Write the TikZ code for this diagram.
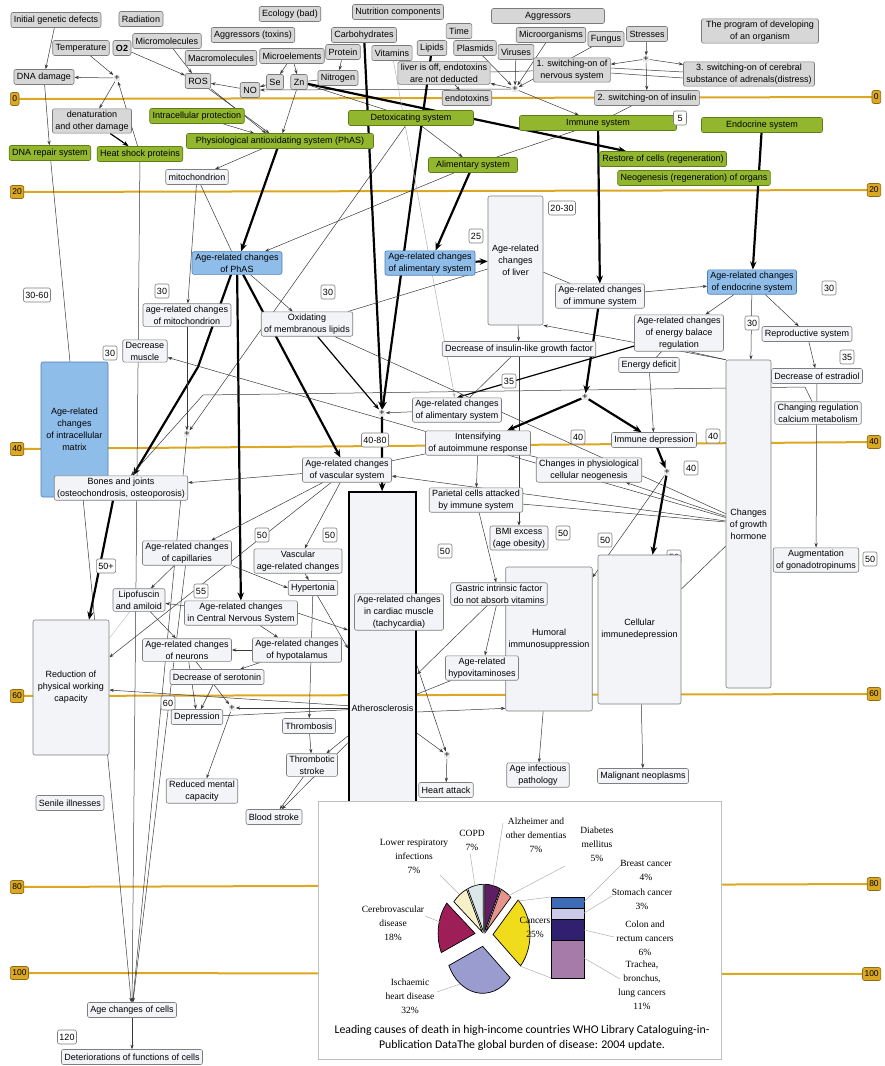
\documentclass[tikz,border=0pt]{standalone}
\usepackage{fontspec}
\setmainfont{Liberation Sans}
\newfontfamily\piefont{Liberation Serif}
\newfontfamily\capfont{Carlito}
\usetikzlibrary{arrows.meta}
\pgfdeclarelayer{bg}
\pgfsetlayers{bg,main}
\definecolor{factorfill}{HTML}{D7D7D7}
\definecolor{factorline}{HTML}{7B7B7B}
\definecolor{sysfill}{HTML}{92B62E}
\definecolor{sysline}{HTML}{5E7D16}
\definecolor{agedfill}{HTML}{8FBDEA}
\definecolor{agedline}{HTML}{4F7FB6}
\definecolor{statefill}{HTML}{F3F4F7}
\definecolor{stateline}{HTML}{7F7F7F}
\definecolor{rulergold}{HTML}{DCA823}
\definecolor{rulerline}{HTML}{8E6B10}
\definecolor{linkgray}{HTML}{3A3A3A}
\definecolor{pieAlz}{HTML}{5E1E62}
\definecolor{pieDiab}{HTML}{E4938D}
\definecolor{pieCanc}{HTML}{F0DC1A}
\definecolor{pieIsch}{HTML}{9A9BCF}
\definecolor{pieCereb}{HTML}{9E1F57}
\definecolor{pieResp}{HTML}{F8F1C8}
\definecolor{pieCopd}{HTML}{DCE7EA}
\definecolor{barBreast}{HTML}{3E6DB5}
\definecolor{barStom}{HTML}{CACAE8}
\definecolor{barColon}{HTML}{30206F}
\definecolor{barLung}{HTML}{A67BAA}

\tikzset{
  base/.style={draw, rounded corners=2pt, align=center, inner xsep=3pt, inner ysep=2pt,
    minimum height=15pt, line width=0.6pt, font=\fontsize{9}{12}\selectfont},
  factor/.style={base, fill=factorfill, draw=factorline},
  sys/.style={base, fill=sysfill, draw=sysline},
  aged/.style={base, fill=agedfill, draw=agedline},
  state/.style={base, fill=statefill, draw=stateline},
  agetag/.style={base, fill=white, draw=stateline, inner xsep=2pt, minimum height=14pt, minimum width=13pt},
  joint/.style={fill=gray!15, inner sep=0.8pt, font=\fontsize{9}{9}\selectfont},
  rulertag/.style={draw=rulerline, fill=rulergold, rounded corners=2pt, inner xsep=2pt, inner ysep=1pt,
    minimum height=13pt, line width=0.6pt, font=\fontsize{8.5}{9}\selectfont},
  ruler/.style={draw=rulergold, line width=2pt},
  link/.style={draw=linkgray, line width=0.5pt, -{Stealth[length=4.5pt,width=3.2pt]}},
  plain/.style={draw=linkgray, line width=0.5pt},
  midlink/.style={draw=black, line width=1.2pt, -{Stealth[length=6pt,width=4.5pt]}},
  heavy/.style={draw=black, line width=2.2pt, -{Stealth[length=8pt,width=6.5pt]}},
  boxw/.style={minimum width=#1pt},
  boxh/.style={minimum height=#1pt},
  leader/.style={draw=gray!60, line width=0.5pt},
  slice/.style={draw=black, line width=0.7pt},
  piefnt/.style={font=\piefont\fontsize{9.5}{14}\selectfont, align=center, inner sep=0pt},
}

\begin{document}
\begin{tikzpicture}[x=1pt,y=-1pt]
\useasboundingbox (0,0) rectangle (885,1066);
\begin{pgfonlayer}{bg}
  \fill[white] (0,0) rectangle (885,1066);
\end{pgfonlayer}

% age scale
\foreach \yl/\yr/\age in {99/97/0,192/190/20,449/442/40,696/694/60,887/884/80,973/974/100}{
  \begin{pgfonlayer}{bg}
    \draw[ruler] (14,\yl) -- (876,\yr);
  \end{pgfonlayer}
  \node[rulertag, anchor=west] (agel\age) at (10,\yl) {\age};
  \node[rulertag, anchor=east] (ager\age) at (881,\yr) {\age};
}

% ages of onset
\foreach \x/\y/\t [count=\i] in {476/236/25, 562/208/20-30, 829/288/30, 162/291/30, 328/292/30,
    37/295/30-60, 752/323/30, 847/357/35, 110/353/30, 509/381/35, 375/440/40-80, 578/437/40,
    713/436/40, 691/468/40, 262/535/50, 330/535/50, 445/551/50, 563/533/50, 605/540/50,
    674/557/50, 870/559/50, 106/566/50+, 201/591/55, 168/703/60, 67/1037/120}
  \node[agetag] (tag\i) at (\x,\y) {\t};

% factors
\node[factor] (gen) at (56,20) {Initial genetic defects};
\node[factor] (rad) at (141,19) {Radiation};
\node[factor] (eco) at (290,14) {Ecology (bad)};
\node[factor] (nutr) at (398,12) {Nutrition components};
\node[factor, boxw=113] (aggr) at (548,16) {Aggressors};
\node[factor] (tox) at (253,35) {Aggressors (toxins)};
\node[factor] (micro) at (167,41) {Micromolecules};
\node[factor] (temp) at (81,48) {Temperature};
\node[factor] (otwo) at (122,48) {\textbf{O2}};
\node[factor] (macro) at (221,58) {Macromolecules};
\node[factor] (melem) at (292,56) {Microelements};
\node[factor] (carb) at (364,35) {Carbohydrates};
\node[factor] (time) at (459,31) {Time};
\node[factor] (prot) at (343,52) {Protein};
\node[factor] (vit) at (392,53) {Vitamins};
\node[factor] (lip) at (432,48) {Lipids};
\node[factor] (plas) at (475,48) {Plasmids};
\node[factor] (vir) at (516,52) {Viruses};
\node[factor] (morg) at (551,35) {Microorganisms};
\node[factor] (fung) at (606,39) {Fungus};
\node[factor] (stress) at (647,34) {Stresses};
\node[factor, boxw=117] (prog) at (760,31) {The program of developing\\of an organism};
\node[factor] (nitro) at (338,78) {Nitrogen};
\node[factor] (liveroff) at (444,73) {liver is off, endotoxins\\are not deducted};
\node[factor] (swone) at (572,70) {1. switching-on of\\nervous system};
\node[factor] (swthree) at (749,74) {3. switching-on of cerebral\\substance of adrenals(distress)};
\node[factor] (se) at (275,82) {Se};
\node[factor] (zn) at (299,82) {Zn};
\node[factor] (no) at (250,90) {NO};
\node[factor] (ros) at (198,81) {ROS};
\node[factor] (dnad) at (44,77) {DNA damage};
\node[joint] (plusdna) at (117,78) {+};
\node[factor] (endo) at (467,98) {endotoxins};
\node[joint] (plusagg) at (515,89) {+};
\node[joint] (plusstr) at (646,59) {+};
\node[factor] (swtwo) at (647,98) {2. switching-on of insulin};
\node[factor] (denat) at (92,121) {denaturation\\and other damage};

% protective systems
\node[sys] (iprot) at (197,116) {Intracellular protection};
\node[sys, boxw=125] (detox) at (411,118) {Detoxicating system};
\node[sys, boxw=157] (immsys) at (598,123) {Immune system};
\node[agetag] (tagfive) at (680,118) {5};
\node[sys, boxw=121] (endsys) at (762,125) {Endocrine system};
\node[sys, boxw=187] (phas) at (280,141) {Physiological antioxidating system (PhAS)};
\node[sys] (dnarep) at (50,153) {DNA repair system};
\node[sys] (hsp) at (140,154) {Heat shock proteins};
\node[sys, boxw=89] (alim) at (473,165) {Alimentary system};
\node[sys] (restore) at (663,159) {Restore of cells (regeneration)};
\node[sys] (neo) at (694,178) {Neogenesis (regeneration) of organs};

% age-related changes
\node[state] (mito) at (197,177) {mitochondrion};
\node[aged, boxw=90] (agephas) at (237,263) {Age-related changes\\of PhAS};
\node[aged, boxw=90] (agealim) at (430,263) {Age-related changes\\of alimentary system};
\node[state, boxw=55, boxh=129] (liver) at (515.5,260.5) {Age-related\\changes\\of liver};
\node[state] (ageimm) at (600,296) {Age-related changes\\of immune system};
\node[aged] (ageendo) at (752,282) {Age-related changes\\of endocrine system};
\node[state] (agemito) at (187,315) {age-related changes\\of mitochondrion};
\node[state] (oxid) at (307,324) {Oxidating\\of membranous lipids};
\node[state] (energy) at (679,333) {Age-related changes\\of energy balace\\regulation};
\node[state] (repro) at (807,334) {Reproductive system};
\node[state] (estr) at (817,376) {Decrease of estradiol};
\node[state] (muscle) at (145,351) {Decrease\\muscle};
\node[state] (igf) at (519,349) {Decrease of insulin-like growth factor};
\node[state] (deficit) at (649,365) {Energy deficit};
\node[state] (alimtwo) at (457,410) {Age-related changes\\of alimentary system};
\node[aged, boxw=67, boxh=135] (matrix) at (74.5,429.5) {Age-related\\changes\\of intracellular\\matrix};
\node[joint] (plusbone) at (187,434) {+};
\node[joint] (plusath) at (382,413) {+};
\node[joint] (plusimm) at (585,397) {+};
\node[state] (calc) at (818,413) {Changing regulation\\calcium metabolism};
\node[state, boxw=45, boxh=328] (growth) at (748.5,524) {Changes\\of growth\\hormone};
\node[state] (auto) at (478,443) {Intensifying\\of autoimmune response};
\node[state] (immdep) at (654,440) {Immune depression};
\node[state] (neog) at (589,470) {Changes in physiological\\cellular neogenesis};
\node[joint] (pluscell) at (667,472) {+};
\node[state] (vasc) at (347,470) {Age-related changes\\of vascular system};
\node[state] (bones) at (121,488) {Bones and joints\\(osteochondrosis, osteoporosis)};
\node[state] (pariet) at (476,500) {Parietal cells attacked\\by immune system};
\node[state, draw=black, line width=1.6pt, rounded corners=0pt, boxw=65, boxh=432] (ather) at (382.5,708) {Atherosclerosis};
\node[state, boxw=86, boxh=144] (humoral) at (549,639) {Humoral\\immunosuppression};
\node[state, boxw=83, boxh=149] (cellimm) at (639.5,629.5) {Cellular\\immunedepression};
\node[state] (capil) at (187,553) {Age-related changes\\of capillaries};
\node[state] (vascch) at (298,561) {Vascular\\age-related changes};
\node[state] (bmi) at (519,538) {BMI excess\\(age obesity)};
\node[state] (hyper) at (313,588) {Hypertonia};
\node[state] (lipo) at (139,600) {Lipofuscin\\and amiloid};
\node[state] (cns) at (241,613) {Age-related changes\\in Central Nervous System};
\node[state] (gastric) at (499,594) {Gastric intrinsic factor\\do not absorb vitamins};
\node[state] (cardiac) at (399,612) {Age-related changes\\in cardiac muscle\\(tachycardia)};
\node[state] (gonad) at (816,560) {Augmentation\\of gonadotropinums};
\node[state, boxw=76, boxh=135] (reduct) at (71,687.5) {Reduction of\\physical working\\capacity};
\node[state] (neur) at (187,650) {Age-related changes\\of neurons};
\node[state] (hypot) at (297,650) {Age-related changes\\of hypotalamus};
\node[state] (sero) at (217,677) {Decrease of serotonin};
\node[state] (hypovit) at (482,668) {Age-related\\hypovitaminoses};
\node[joint] (plusdep) at (232,708) {+};
\node[state] (depr) at (197,717) {Depression};
\node[state] (thromb) at (309,726) {Thrombosis};
\node[state] (tstroke) at (312,765) {Thrombotic\\stroke};
\node[joint] (plusheart) at (447,755) {+};
\node[state] (heart) at (446,790) {Heart attack};
\node[state] (infect) at (538,775) {Age infectious\\pathology};
\node[state] (malig) at (643,776) {Malignant neoplasms};
\node[state] (mental) at (202,791) {Reduced mental\\capacity};
\node[state] (senile) at (70,803) {Senile illnesses};
\node[state] (blood) at (274,817) {Blood stroke};
\node[state] (cells) at (132,1010) {Age changes of cells};
\node[state] (deter) at (132,1057) {Deteriorations of functions of cells};

\coordinate (phasbend) at (198,367);
\coordinate (calcbend) at (805,387);
\coordinate (calcleft) at (203,395);

\begin{pgfonlayer}{bg}
% factors
\draw[link] (gen) -- (dnad);
\draw[link] (temp) -- (plusdna);
\draw[link] (plusdna) -- (dnad);
\draw[link] (plusdna) -- (denat);
\draw[link] (hsp) -- (plusdna);
\draw[midlink] (denat) -- (hsp);
\draw[link] (dnad) -- (dnarep);
\draw[link] (otwo) -- (ros);
\draw[link] (micro) -- (ros);
\draw[link] (no) -- (ros);
\draw[link] (se) -- (no);
\draw[link] (melem) -- (se);
\draw[link] (melem) -- (zn);
\draw[link] (prot) -- (nitro);
\draw[plain] (nitro) -- (zn);
\draw[link] (plusagg) -- (no);
\draw[link] (ros) -- (phas);
\draw[link] (ros.south east) -- ([xshift=-14pt]phas.north);
\draw[link] (iprot) -- (phas);
\draw[link] (zn) -- (phas);
\draw[plain] (zn) -- (detox);
\draw[heavy] (zn) -- (restore);
\draw[link] (plas) -- (plusagg);
\draw[link] (vir) -- (plusagg);
\draw[link] (morg) -- (plusagg);
\draw[link] (fung) -- (plusagg);
\draw[link] (plusagg) -- (liveroff);
\draw[link] (liveroff) -- (endo);
\draw[plain] (liveroff) -- (swone);
\draw[link] (plusagg) -- (immsys);
\draw[link] (stress) -- (plusstr);
\draw[link] (plusstr) -- (swone);
\draw[link] (plusstr) -- (swthree);
\draw[link] (plusstr) -- (swtwo);
\draw[plain] ([yshift=2pt]swone.east) -- ([yshift=2pt]swthree.west);
\draw[plain] ([yshift=-3pt]swone.east) -- ([yshift=-4pt]swthree.west);
\draw[plain] (swtwo) -- (immsys);
% systems
\draw[link] (detox) -- (alim);
\draw[plain] (immsys) -- (alim);
\draw[link] (detox) -- (plusbone);
\draw[heavy] (phas) -- (agephas);
\draw[link] (phas) -- (mito);
\draw[link] (mito) -- (agemito);
\draw[plain] (mito) -- (agephas);
\draw[link] (alim) -- (agephas);
\draw[heavy] (alim) -- (agealim);
\draw[heavy] (carb) -- (plusath);
\draw[heavy] (lip) -- (plusath);
\draw[link, draw=gray!60] (vit) -- (alimtwo);
\draw[heavy] (agealim) -- (liver);
\draw[heavy] (immsys) -- (ageimm);
\draw[heavy] (endsys) -- (ageendo);
\draw[link] (dnarep) -- (cells);
\draw[link] (hsp) -- (cells);
% changes
\draw[heavy] (agephas) -- (vasc);
\draw[heavy] (agephas) -- (cns);
\draw[heavy] ([xshift=-6pt]agephas.south) -- (phasbend) -- ([xshift=12pt]bones.north);
\draw[link] (agephas) -- (oxid);
\draw[midlink] (oxid) -- (plusath);
\draw[heavy] (plusath) -- (ather);
\draw[link] (alimtwo) -- (plusath);
\draw[link] (agemito) -- (plusbone);
\draw[plain] (plusbone) -- (cells);
\draw[plain] (oxid) -- (liver);
\draw[plain] (liver) -- (ageimm);
\draw[link] (liver) -- (igf);
\draw[link] (igf) -- (bmi);
\draw[plain] (igf) -- (alimtwo);
\draw[link] (growth.north west) -- (liver.south east);
\draw[link] (ageimm) -- (ageendo);
\draw[link] (ageendo) -- (energy);
\draw[link] (ageendo) -- (growth);
\draw[link] (ageendo) -- (repro);
\draw[link] (repro) -- (estr);
\draw[link] (estr) -- (gonad);
\draw[plain] (energy) -- (deficit);
\draw[plain] ([xshift=10pt]energy.south) -- (growth.north west);
\draw[midlink] (energy) -- (alimtwo.north);
\draw[link] (deficit) -- (immdep);
\draw[heavy] (ageimm) -- (plusimm);
\draw[heavy] (plusimm) -- (immdep);
\draw[heavy] (plusimm) -- (auto);
\draw[heavy] (immdep) -- (pluscell);
\draw[heavy] (pluscell) -- (cellimm);
\draw[link] (pluscell) -- (humoral);
\draw[link] ([xshift=-6pt]calc.north) -- (calcbend) -- (calcleft) -- ([xshift=10pt]bones.north);
\draw[link] (growth) -- (muscle);
\draw[plain] (oxid) -- (growth);
\draw[link] (growth) -- (vasc);
\draw[link] (growth) -- (neog);
\draw[plain] (pariet) -- (growth);
\draw[plain] (growth) -- (cellimm);
\draw[plain] (auto) -- (neog);
\draw[plain] (auto) -- (vasc);
\draw[link] (auto) -- (pariet);
% vessels and nerves
\draw[link] (vasc) -- (bones);
\draw[link] (vasc) -- (capil);
\draw[link] (vasc) -- (vascch);
\draw[link] (vasc) -- (reduct);
\draw[heavy] ([xshift=-8pt]bones.south) -- ([xshift=18pt]reduct.north);
\draw[link] (capil) -- (lipo);
\draw[link] (capil.south east) -- (hyper.west);
\draw[link] (capil) -- (cells);
\draw[link] (vascch) -- (hyper);
\draw[link] (hyper) -- (ather);
\draw[link] (hyper) -- (thromb);
\draw[link] (cns) -- (lipo);
\draw[link] (cns) -- (hypot);
\draw[link] (cns.east) -- (ather.west |- 0,630);
\draw[link] (lipo) -- (neur);
\draw[plain, draw=gray!45] (lipo) -- (reduct);
\draw[link] (hypot) -- (neur);
\draw[link] (hypot) -- (sero);
\draw[link] (neur) -- (depr);
\draw[link] (sero) -- (depr);
\draw[link] (neur) -- (plusdep);
\draw[link] (plusdep) -- (mental);
\draw[link] (ather) -- (plusdep);
\draw[link] (ather) -- (reduct);
\draw[plain] (depr) -- (ather);
\draw[link] (thromb) -- (tstroke);
\draw[link] (ather) -- (tstroke);
\draw[link] (tstroke) -- (blood);
\draw[link] (ather) -- (blood);
\draw[link] (ather) -- (plusheart);
\draw[link] (cardiac) -- (plusheart);
\draw[link] (plusheart) -- (heart);
\draw[link] (pariet) -- (gastric);
\draw[link] (gastric) -- (ather);
\draw[link] (gastric) -- (hypovit);
\draw[plain] (hypovit) -- (ather);
\draw[link] (ather.east |- 0,712) -- ([yshift=3pt]humoral.south west);
\draw[link] (humoral) -- (infect);
\draw[link] (cellimm) -- (malig);
\draw[link] (cells) -- (deter);
\end{pgfonlayer}

% WHO chart
\node[draw=gray!50, fill=white, line width=0.6pt, anchor=north west, minimum width=403pt,
  minimum height=258pt, inner sep=0pt] (inset) at (318,801) {};
\begin{scope}[shift={(484,935)}, yscale=-1.27]
\foreach \a/\b/\o/\c in {90/65.05/3/pieAlz, 65.05/47.23/3/pieDiab, 47.23/-41.87/9/pieCanc,
    -41.87/-155.92/9/pieIsch, -155.92/-220.07/9/pieCereb, -220.07/-245.02/3/pieResp,
    -245.02/-269.97/3/pieCopd}
  \filldraw[slice, fill=\c] ({(\a+\b)/2}:\o) -- ++(\a:37) arc[start angle=\a, end angle=\b, radius=37] -- cycle;
\end{scope}
\filldraw[slice, fill=barBreast] (551,897) rectangle (584,908);
\filldraw[slice, fill=barStom] (551,908) rectangle (584,919);
\filldraw[slice, fill=barColon] (551,919) rectangle (584,940);
\filldraw[slice, fill=barLung] (551,940) rectangle (584,978);
\draw[leader] (518,901) -- (551,897);
\draw[leader] (520,966) -- (551,978);
\draw[leader] (503,823) -- (493,886);
\draw[leader] (565,866) -- (508,896);
\draw[leader] (470,853) -- (475,886);
\draw[leader] (440,875) -- (459,894);
\draw[leader] (425,916) -- (440,922);
\draw[leader] (437,992) -- (460,984);
\draw[leader] (584,902) -- (624,862);
\draw[leader] (584,913) -- (612,896);
\draw[leader] (584,930) -- (614,937);
\draw[leader] (584,958) -- (620,979);

\node[piefnt] (lblresp) at (414,856) {Lower respiratory\\infections\\7\%};
\node[piefnt] (lblcopd) at (472,840) {COPD\\7\%};
\node[piefnt] (lblalz) at (536,835) {Alzheimer and\\other dementias\\7\%};
\node[piefnt] (lbldiab) at (597,844) {Diabetes\\mellitus\\5\%};
\node[piefnt] (lblbreast) at (646,870) {Breast cancer\\4\%};
\node[piefnt] (lblstom) at (642,899) {Stomach cancer\\3\%};
\node[piefnt] (lblcolon) at (645,938) {Colon and\\rectum cancers\\6\%};
\node[piefnt] (lbltrach) at (642,985) {Trachea,\\bronchus,\\lung cancers\\11\%};
\node[piefnt] (lblcereb) at (393,923) {Cerebrovascular\\disease\\18\%};
\node[piefnt] (lblisch) at (410,996) {Ischaemic\\heart disease\\32\%};
\node[piefnt] (lblcanc) at (535,927) {Cancers\\25\%};
\node[font=\capfont\fontsize{11.8}{15.5}\selectfont, align=center, inner sep=0pt] (caption) at (522,1038)
  {Leading causes of death in high-income countries WHO Library Cataloguing-in-\\Publication DataThe global burden of disease: 2004 update.};
\end{tikzpicture}
\end{document}
